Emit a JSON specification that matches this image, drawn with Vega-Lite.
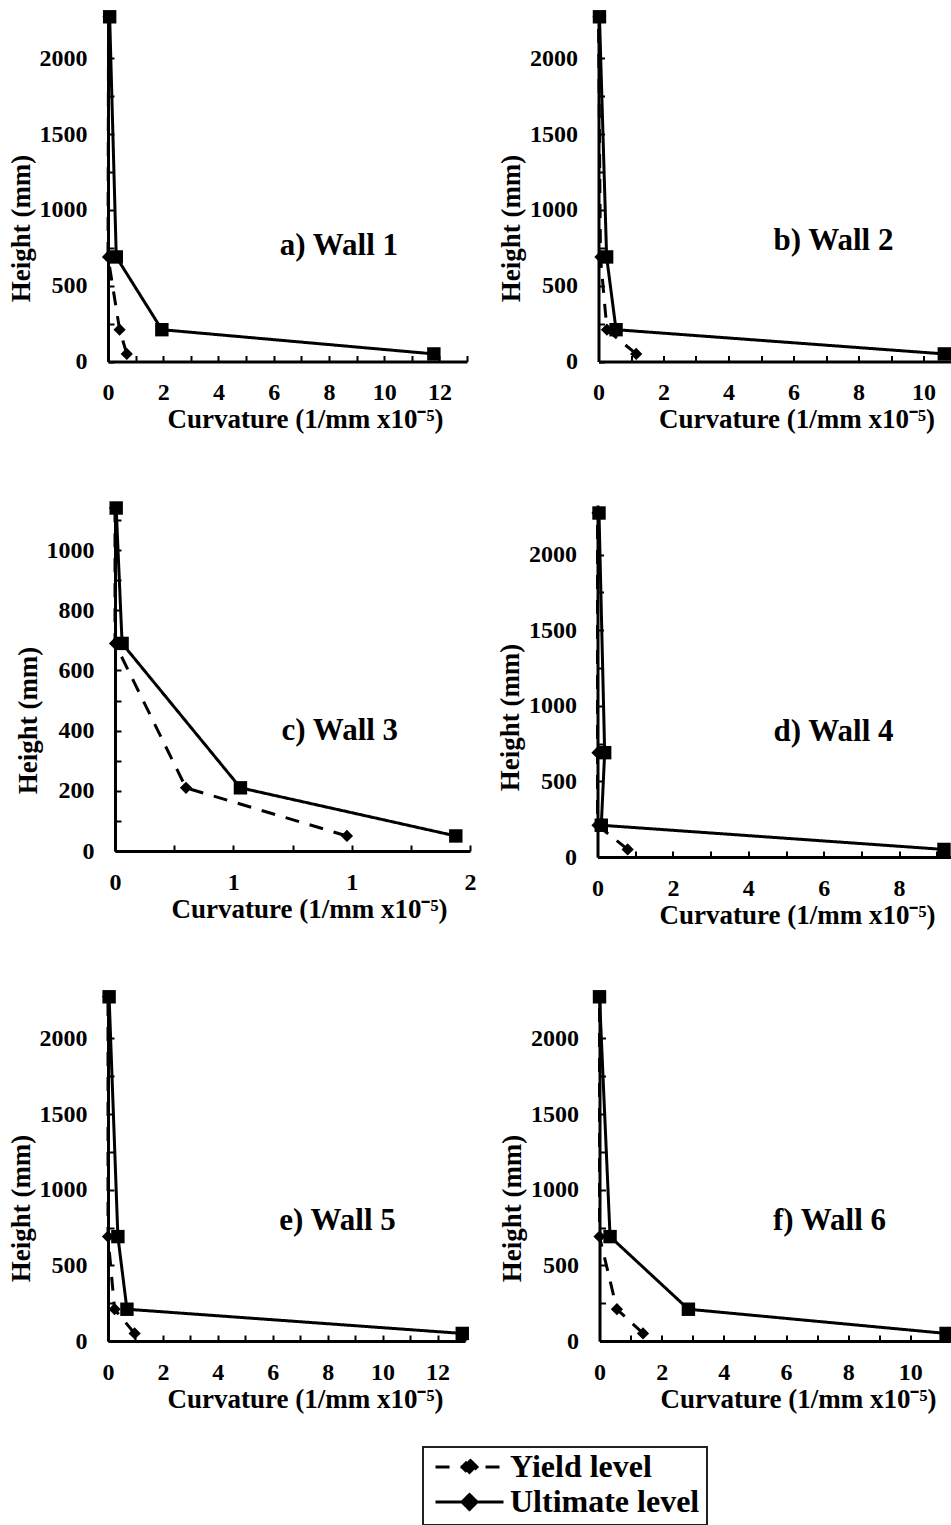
{
  "$schema": "https://vega.github.io/schema/vega-lite/v6.json",
  "background": "white",
  "padding": {"left": 7, "top": 8, "right": 0, "bottom": 0},
  "datasets": {
    "curv": [
      {"wall": "a) Wall 1", "level": "Ultimate level", "height": 2275, "curvature": 0.06},
      {"wall": "a) Wall 1", "level": "Ultimate level", "height": 690, "curvature": 0.3},
      {"wall": "a) Wall 1", "level": "Ultimate level", "height": 210, "curvature": 1.95},
      {"wall": "a) Wall 1", "level": "Ultimate level", "height": 50, "curvature": 11.8},
      {"wall": "a) Wall 1", "level": "Yield level", "height": 2275, "curvature": 0.02},
      {"wall": "a) Wall 1", "level": "Yield level", "height": 690, "curvature": 0.0},
      {"wall": "a) Wall 1", "level": "Yield level", "height": 210, "curvature": 0.42},
      {"wall": "a) Wall 1", "level": "Yield level", "height": 50, "curvature": 0.68},
      {"wall": "b) Wall 2", "level": "Ultimate level", "height": 2275, "curvature": 0.03},
      {"wall": "b) Wall 2", "level": "Ultimate level", "height": 690, "curvature": 0.25},
      {"wall": "b) Wall 2", "level": "Ultimate level", "height": 210, "curvature": 0.54},
      {"wall": "b) Wall 2", "level": "Ultimate level", "height": 50, "curvature": 10.64},
      {"wall": "b) Wall 2", "level": "Yield level", "height": 2275, "curvature": 0.0},
      {"wall": "b) Wall 2", "level": "Yield level", "height": 690, "curvature": 0.06},
      {"wall": "b) Wall 2", "level": "Yield level", "height": 210, "curvature": 0.26},
      {"wall": "b) Wall 2", "level": "Yield level", "height": 50, "curvature": 1.16},
      {"wall": "c) Wall 3", "level": "Ultimate level", "height": 1140, "curvature": 0.005},
      {"wall": "c) Wall 3", "level": "Ultimate level", "height": 690, "curvature": 0.03},
      {"wall": "c) Wall 3", "level": "Ultimate level", "height": 210, "curvature": 0.53},
      {"wall": "c) Wall 3", "level": "Ultimate level", "height": 50, "curvature": 1.44},
      {"wall": "c) Wall 3", "level": "Yield level", "height": 1140, "curvature": 0.0},
      {"wall": "c) Wall 3", "level": "Yield level", "height": 690, "curvature": 0.0},
      {"wall": "c) Wall 3", "level": "Yield level", "height": 210, "curvature": 0.3},
      {"wall": "c) Wall 3", "level": "Yield level", "height": 50, "curvature": 0.98},
      {"wall": "d) Wall 4", "level": "Ultimate level", "height": 2275, "curvature": 0.04},
      {"wall": "d) Wall 4", "level": "Ultimate level", "height": 690, "curvature": 0.19},
      {"wall": "d) Wall 4", "level": "Ultimate level", "height": 210, "curvature": 0.1},
      {"wall": "d) Wall 4", "level": "Ultimate level", "height": 50, "curvature": 9.19},
      {"wall": "d) Wall 4", "level": "Yield level", "height": 2275, "curvature": 0.0},
      {"wall": "d) Wall 4", "level": "Yield level", "height": 690, "curvature": 0.0},
      {"wall": "d) Wall 4", "level": "Yield level", "height": 210, "curvature": 0.0},
      {"wall": "d) Wall 4", "level": "Yield level", "height": 50, "curvature": 0.8},
      {"wall": "e) Wall 5", "level": "Ultimate level", "height": 2275, "curvature": 0.04},
      {"wall": "e) Wall 5", "level": "Ultimate level", "height": 690, "curvature": 0.36},
      {"wall": "e) Wall 5", "level": "Ultimate level", "height": 210, "curvature": 0.69},
      {"wall": "e) Wall 5", "level": "Ultimate level", "height": 50, "curvature": 12.9},
      {"wall": "e) Wall 5", "level": "Yield level", "height": 2275, "curvature": 0.0},
      {"wall": "e) Wall 5", "level": "Yield level", "height": 690, "curvature": 0.0},
      {"wall": "e) Wall 5", "level": "Yield level", "height": 210, "curvature": 0.24},
      {"wall": "e) Wall 5", "level": "Yield level", "height": 50, "curvature": 0.97},
      {"wall": "f) Wall 6", "level": "Ultimate level", "height": 2275, "curvature": 0.0},
      {"wall": "f) Wall 6", "level": "Ultimate level", "height": 690, "curvature": 0.34},
      {"wall": "f) Wall 6", "level": "Ultimate level", "height": 210, "curvature": 2.86},
      {"wall": "f) Wall 6", "level": "Ultimate level", "height": 50, "curvature": 11.15},
      {"wall": "f) Wall 6", "level": "Yield level", "height": 2275, "curvature": 0.0},
      {"wall": "f) Wall 6", "level": "Yield level", "height": 690, "curvature": 0.0},
      {"wall": "f) Wall 6", "level": "Yield level", "height": 210, "curvature": 0.56},
      {"wall": "f) Wall 6", "level": "Yield level", "height": 50, "curvature": 1.4}
    ]
  },
  "config": {
    "view": {"stroke": null},
    "font": "Times New Roman, Liberation Serif, serif",
    "text": {"font": "Times New Roman, Liberation Serif, serif"},
    "axis": {
      "domainColor": "black", "domainWidth": 3, "tickColor": "black", "tickWidth": 2, "tickSize": -6,
      "grid": false, "labelFont": "Times New Roman, Liberation Serif, serif", "labelFontSize": 24, "labelFontWeight": "bold",
      "labelColor": "black", "titleFont": "Times New Roman, Liberation Serif, serif", "titleFontSize": 27, "titleFontWeight": "bold",
      "titleColor": "black", "labelPadding": 25, "titlePadding": 2, "labelOverlap": false, "labelFlush": false, "labelBound": false
    },
    "axisY": {"labelPadding": 27, "titlePadding": 4},
    "legend": {
      "orient": "none", "legendX": 315, "legendY": 1434, "title": null,
      "labelFont": "Times New Roman, Liberation Serif, serif", "labelFontSize": 32, "labelFontWeight": "bold", "labelColor": "black", "labelLimit": 0,
      "symbolSize": 4624, "symbolStrokeWidth": 3, "symbolStrokeColor": "black", "symbolFillColor": "black", "symbolOffset": 4,
      "strokeColor": "#222222", "strokeWidth": 2, "padding": 7, "labelOffset": 5, "clipHeight": 26, "rowPadding": 3
    }
  },
  "spacing": 68,
  "vconcat": [
    {
      "spacing": 29.5,
      "hconcat": [
        {
          "width": 359, "height": 348.5,
          "data": {"name": "curv"},
          "transform": [{"filter": "datum.wall === 'a) Wall 1'"}],
          "encoding": {
            "x": {"field": "curvature", "type": "quantitative", "scale": {"domain": [0, 13], "nice": false, "zero": true},
              "axis": {"title": "Curvature (1/mm x10⁻⁵)", "values": [0,1,2,3,4,5,6,7,8,9,10,11,12,13], "format": "d", "labelExpr": "datum.value % 2 ? '' : datum.label", "titleX": 197}},
            "y": {"field": "height", "type": "quantitative", "scale": {"domain": [0, 2300], "nice": false},
              "axis": {"title": "Height (mm)", "values": [0,250,500,750,1000,1250,1500,1750,2000,2250], "format": "d", "labelExpr": "datum.value % 500 ? '' : datum.label", "titleY": 215}}
          },
          "layer": [
            {"mark": {"type": "line", "strokeWidth": 3, "color": "black"},
             "encoding": {"order": {"field": "height", "type": "quantitative"},
               "strokeDash": {"field": "level", "type": "nominal", "scale": {"domain": ["Yield level", "Ultimate level"], "range": [[14, 11], [1, 0]]},
                 "legend": {"symbolType": "M-1,0H1M0,-0.22L0.22,0L0,0.22L-0.22,0Z"}}}},
            {"transform": [{"filter": "datum.level === 'Yield level'"}], "mark": {"type": "point", "shape": "diamond", "size": 150, "filled": true, "color": "black", "opacity": 1}, "encoding": {}},
            {"transform": [{"filter": "datum.level === 'Ultimate level'"}], "mark": {"type": "point", "shape": "square", "size": 180, "filled": true, "color": "black", "opacity": 1}, "encoding": {}},
            {"transform": [{"filter": "datum.level === 'Ultimate level' && datum.height === 50"}],
             "mark": {"type": "text", "fontSize": 31, "fontWeight": "bold", "align": "center", "baseline": "alphabetic", "color": "black"},
             "encoding": {"x": {"datum": 8.36}, "y": {"datum": 700}, "text": {"field": "wall"}}}
          ]
        },
        {
          "width": 357.5, "height": 348.5,
          "data": {"name": "curv"},
          "transform": [{"filter": "datum.wall === 'b) Wall 2'"}],
          "encoding": {
            "x": {"field": "curvature", "type": "quantitative", "scale": {"domain": [0, 11], "nice": false, "zero": true},
              "axis": {"title": "Curvature (1/mm x10⁻⁵)", "values": [0,1,2,3,4,5,6,7,8,9,10,11], "format": "d", "labelExpr": "datum.value % 2 ? '' : datum.label", "titleX": 198}},
            "y": {"field": "height", "type": "quantitative", "scale": {"domain": [0, 2300], "nice": false},
              "axis": {"title": "Height (mm)", "values": [0,250,500,750,1000,1250,1500,1750,2000,2250], "format": "d", "labelExpr": "datum.value % 500 ? '' : datum.label", "titleY": 215}}
          },
          "layer": [
            {"mark": {"type": "line", "strokeWidth": 3, "color": "black"},
             "encoding": {"order": {"field": "height", "type": "quantitative"},
               "strokeDash": {"field": "level", "type": "nominal", "scale": {"domain": ["Yield level", "Ultimate level"], "range": [[14, 11], [1, 0]]},
                 "legend": {"symbolType": "M-1,0H1M0,-0.22L0.22,0L0,0.22L-0.22,0Z"}}}},
            {"transform": [{"filter": "datum.level === 'Yield level'"}], "mark": {"type": "point", "shape": "diamond", "size": 150, "filled": true, "color": "black", "opacity": 1}, "encoding": {}},
            {"transform": [{"filter": "datum.level === 'Ultimate level'"}], "mark": {"type": "point", "shape": "square", "size": 180, "filled": true, "color": "black", "opacity": 1}, "encoding": {}},
            {"transform": [{"filter": "datum.level === 'Ultimate level' && datum.height === 50"}],
             "mark": {"type": "text", "fontSize": 31, "fontWeight": "bold", "align": "center", "baseline": "alphabetic", "color": "black"},
             "encoding": {"x": {"datum": 7.23}, "y": {"datum": 733}, "text": {"field": "wall"}}}
          ]
        }
      ]
    },
    {
      "spacing": 60,
      "vconcat": [
        {
          "spacing": 20.5,
          "hconcat": [
            {
              "width": 362, "height": 346,
              "data": {"name": "curv"},
              "transform": [{"filter": "datum.wall === 'c) Wall 3'"}],
              "encoding": {
                "x": {"field": "curvature", "type": "quantitative", "scale": {"domain": [0, 1.5], "range": [7, 362], "nice": false, "zero": true},
                  "axis": {"title": "Curvature (1/mm x10⁻⁵)", "values": [0,0.25,0.5,0.75,1,1.25,1.5], "labelExpr": "datum.value % 0.5 ? '' : format(datum.value, '.0f')", "titleX": 201}},
                "y": {"field": "height", "type": "quantitative", "scale": {"domain": [0, 1150], "nice": false},
                  "axis": {"title": "Height (mm)", "values": [0,100,200,300,400,500,600,700,800,900,1000,1100], "format": "d", "labelExpr": "datum.value % 200 ? '' : datum.label", "titleY": 215, "offset": -7}}
              },
              "layer": [
                {"mark": {"type": "line", "strokeWidth": 3, "color": "black"},
                 "encoding": {"order": {"field": "height", "type": "quantitative"},
                   "strokeDash": {"field": "level", "type": "nominal", "scale": {"domain": ["Yield level", "Ultimate level"], "range": [[14, 11], [1, 0]]},
                     "legend": {"symbolType": "M-1,0H1M0,-0.22L0.22,0L0,0.22L-0.22,0Z"}}}},
                {"transform": [{"filter": "datum.level === 'Yield level'"}], "mark": {"type": "point", "shape": "diamond", "size": 150, "filled": true, "color": "black", "opacity": 1}, "encoding": {}},
                {"transform": [{"filter": "datum.level === 'Ultimate level'"}], "mark": {"type": "point", "shape": "square", "size": 180, "filled": true, "color": "black", "opacity": 1}, "encoding": {}},
                {"transform": [{"filter": "datum.level === 'Ultimate level' && datum.height === 50"}],
                 "mark": {"type": "text", "fontSize": 31, "fontWeight": "bold", "align": "center", "baseline": "alphabetic", "color": "black"},
                 "encoding": {"x": {"datum": 0.95}, "y": {"datum": 369}, "text": {"field": "wall"}}}
              ]
            },
            {
              "width": 377, "height": 352,
              "data": {"name": "curv"},
              "transform": [{"filter": "datum.wall === 'd) Wall 4'"}],
              "encoding": {
                "x": {"field": "curvature", "type": "quantitative", "scale": {"domain": [0, 10], "nice": false, "zero": true},
                  "axis": {"title": "Curvature (1/mm x10⁻⁵)", "values": [0,1,2,3,4,5,6,7,8,9,10], "format": "d", "labelExpr": "(datum.value % 2 || datum.value > 9) ? '' : datum.label", "titleX": 199.5}},
                "y": {"field": "height", "type": "quantitative", "scale": {"domain": [0, 2328], "nice": false},
                  "axis": {"title": "Height (mm)", "values": [0,250,500,750,1000,1250,1500,1750,2000,2250], "format": "d", "labelExpr": "datum.value % 500 ? '' : datum.label", "titleY": 212}}
              },
              "layer": [
                {"mark": {"type": "line", "strokeWidth": 3, "color": "black"},
                 "encoding": {"order": {"field": "height", "type": "quantitative"},
                   "strokeDash": {"field": "level", "type": "nominal", "scale": {"domain": ["Yield level", "Ultimate level"], "range": [[14, 11], [1, 0]]},
                     "legend": {"symbolType": "M-1,0H1M0,-0.22L0.22,0L0,0.22L-0.22,0Z"}}}},
                {"transform": [{"filter": "datum.level === 'Yield level'"}], "mark": {"type": "point", "shape": "diamond", "size": 150, "filled": true, "color": "black", "opacity": 1}, "encoding": {}},
                {"transform": [{"filter": "datum.level === 'Ultimate level'"}], "mark": {"type": "point", "shape": "square", "size": 180, "filled": true, "color": "black", "opacity": 1}, "encoding": {}},
                {"transform": [{"filter": "datum.level === 'Ultimate level' && datum.height === 50"}],
                 "mark": {"type": "text", "fontSize": 31, "fontWeight": "bold", "align": "center", "baseline": "alphabetic", "color": "black"},
                 "encoding": {"x": {"datum": 6.26}, "y": {"datum": 768}, "text": {"field": "wall"}}}
              ]
            }
          ]
        },
        {
          "spacing": 29.5,
          "hconcat": [
            {
              "width": 357, "height": 348,
              "data": {"name": "curv"},
              "transform": [{"filter": "datum.wall === 'e) Wall 5'"}],
              "encoding": {
                "x": {"field": "curvature", "type": "quantitative", "scale": {"domain": [0, 13], "nice": false, "zero": true},
                  "axis": {"title": "Curvature (1/mm x10⁻⁵)", "values": [0,1,2,3,4,5,6,7,8,9,10,11,12,13], "format": "d", "labelExpr": "datum.value % 2 ? '' : datum.label", "titleX": 197}},
                "y": {"field": "height", "type": "quantitative", "scale": {"domain": [0, 2300], "nice": false},
                  "axis": {"title": "Height (mm)", "values": [0,250,500,750,1000,1250,1500,1750,2000,2250], "format": "d", "labelExpr": "datum.value % 500 ? '' : datum.label", "titleY": 215}}
              },
              "layer": [
                {"mark": {"type": "line", "strokeWidth": 3, "color": "black"},
                 "encoding": {"order": {"field": "height", "type": "quantitative"},
                   "strokeDash": {"field": "level", "type": "nominal", "scale": {"domain": ["Yield level", "Ultimate level"], "range": [[14, 11], [1, 0]]},
                     "legend": {"symbolType": "M-1,0H1M0,-0.22L0.22,0L0,0.22L-0.22,0Z"}}}},
                {"transform": [{"filter": "datum.level === 'Yield level'"}], "mark": {"type": "point", "shape": "diamond", "size": 150, "filled": true, "color": "black", "opacity": 1}, "encoding": {}},
                {"transform": [{"filter": "datum.level === 'Ultimate level'"}], "mark": {"type": "point", "shape": "square", "size": 180, "filled": true, "color": "black", "opacity": 1}, "encoding": {}},
                {"transform": [{"filter": "datum.level === 'Ultimate level' && datum.height === 50"}],
                 "mark": {"type": "text", "fontSize": 31, "fontWeight": "bold", "align": "center", "baseline": "alphabetic", "color": "black"},
                 "encoding": {"x": {"datum": 8.36}, "y": {"datum": 734}, "text": {"field": "wall"}}}
              ]
            },
            {
              "width": 373, "height": 348,
              "data": {"name": "curv"},
              "transform": [{"filter": "datum.wall === 'f) Wall 6'"}],
              "encoding": {
                "x": {"field": "curvature", "type": "quantitative", "scale": {"domain": [0, 12], "nice": false, "zero": true},
                  "axis": {"title": "Curvature (1/mm x10⁻⁵)", "values": [0,1,2,3,4,5,6,7,8,9,10,11,12], "format": "d", "labelExpr": "(datum.value % 2 || datum.value > 11) ? '' : datum.label", "titleX": 198.5}},
                "y": {"field": "height", "type": "quantitative", "scale": {"domain": [0, 2300], "nice": false},
                  "axis": {"title": "Height (mm)", "values": [0,250,500,750,1000,1250,1500,1750,2000,2250], "format": "d", "labelExpr": "datum.value % 500 ? '' : datum.label", "titleY": 215}}
              },
              "layer": [
                {"mark": {"type": "line", "strokeWidth": 3, "color": "black"},
                 "encoding": {"order": {"field": "height", "type": "quantitative"},
                   "strokeDash": {"field": "level", "type": "nominal", "scale": {"domain": ["Yield level", "Ultimate level"], "range": [[14, 11], [1, 0]]},
                     "legend": {"symbolType": "M-1,0H1M0,-0.22L0.22,0L0,0.22L-0.22,0Z"}}}},
                {"transform": [{"filter": "datum.level === 'Yield level'"}], "mark": {"type": "point", "shape": "diamond", "size": 150, "filled": true, "color": "black", "opacity": 1}, "encoding": {}},
                {"transform": [{"filter": "datum.level === 'Ultimate level'"}], "mark": {"type": "point", "shape": "square", "size": 180, "filled": true, "color": "black", "opacity": 1}, "encoding": {}},
                {"transform": [{"filter": "datum.level === 'Ultimate level' && datum.height === 50"}],
                 "mark": {"type": "text", "fontSize": 31, "fontWeight": "bold", "align": "center", "baseline": "alphabetic", "color": "black"},
                 "encoding": {"x": {"datum": 7.4}, "y": {"datum": 734}, "text": {"field": "wall"}}}
              ]
            }
          ]
        }
      ]
    }
  ]
}
